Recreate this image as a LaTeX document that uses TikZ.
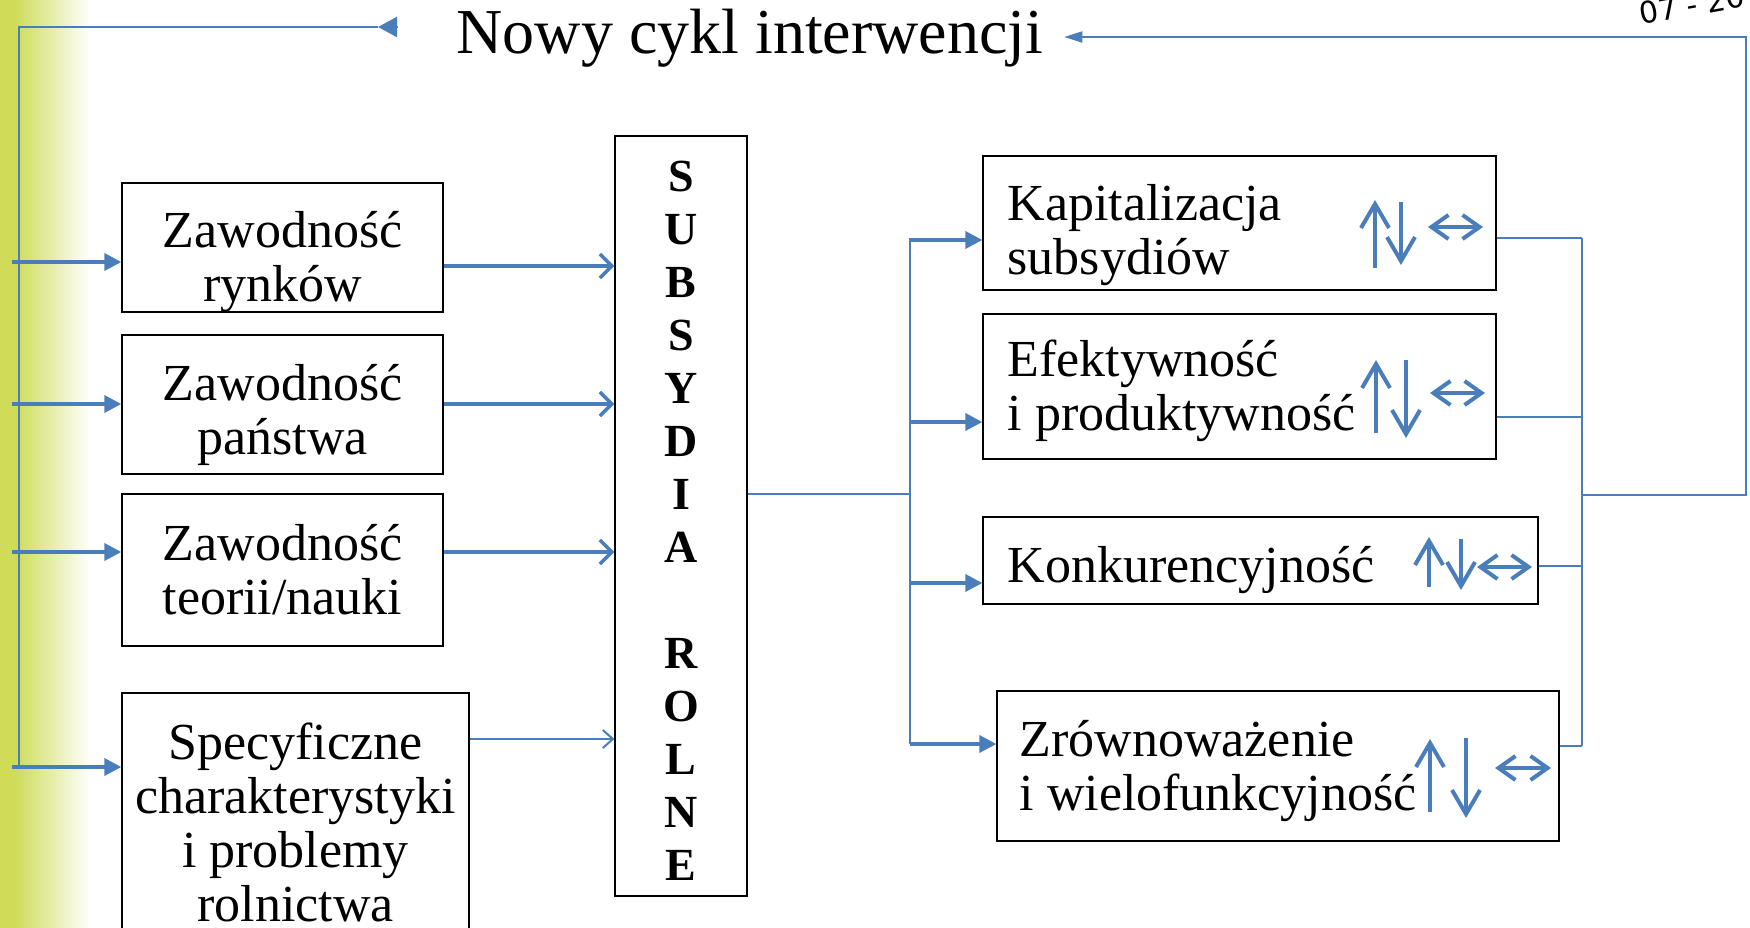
\documentclass[tikz,border=0pt]{standalone}
\usepackage{fontspec}
\setmainfont{Liberation Serif}
\setsansfont{DejaVu Sans}
\usetikzlibrary{positioning,arrows.meta}
\definecolor{lineblue}{RGB}{74,126,187}
\definecolor{lime}{RGB}{206,220,88}
\newcommand{\boxfont}{\fontsize{52}{54}\selectfont}

\begin{document}
\begin{tikzpicture}[x=1pt,y=-1pt,
    box/.style={draw, line width=1.3pt, inner sep=0pt},
    txt/.style={inner sep=0pt, align=center, font=\boxfont},
    rtxt/.style={txt, align=left, anchor=west},
    link/.style={lineblue, line width=2pt},
    feed/.style={lineblue, line width=3.5pt, -{Triangle[length=17pt,width=17pt]}},
    into/.style={lineblue, line width=3.5pt, -{Straight Barb[length=12pt,width=24pt]}},
    trend/.style={lineblue, line width=4pt, -{Straight Barb[length=24pt,width=28pt]}},
    both/.style={lineblue, line width=4pt, {Straight Barb[length=17pt,width=24pt]}-{Straight Barb[length=17pt,width=24pt]}}]
    \useasboundingbox (0,0) rectangle (1750,928);
    \fill[lime] (0,0) rectangle (15,928);
    \shade[left color=lime, right color=white] (15,0) rectangle (90,928);

    \node[font=\fontsize{64}{66}\selectfont, inner sep=0pt, outer xsep=21pt, anchor=base] (cycle) at (750,54) {Nowy cykl interwencji};
    \node[font=\sffamily\fontsize{30}{30}\selectfont, rotate=10] (stamp) at (1692,5) {07 - 20};

    % przyczyny
    \node[box, minimum width=321pt, minimum height=129pt] (mkt) at (282.5,247.5) {};
    \node[box, minimum width=321pt, minimum height=139pt] (state) at (282.5,404.5) {};
    \node[box, minimum width=321pt, minimum height=152pt] (theory) at (282.5,570) {};
    \node[box, minimum width=347pt, minimum height=267pt] (agri) at (295.5,826.5) {};
    \node[txt] (mkt-t) at ([yshift=-15pt]mkt.center) {Zawodność\\rynków};
    \node[txt] (state-t) at ([yshift=-10pt]state.center) {Zawodność\\państwa};
    \node[txt] (theory-t) at (theory.center) {Zawodność\\teorii/nauki};
    \node[txt] (agri-t) at ([yshift=4pt]agri.center) {Specyficzne\\charakterystyki\\i problemy\\rolnictwa};

    \node[box, minimum width=132pt, minimum height=760pt] (subs) at (681,516) {};
    \node[txt, font=\bfseries\fontsize{46}{53}\selectfont] (subs-t) at ([yshift=-5pt]subs.center) {S\\U\\B\\S\\Y\\D\\I\\A\\[53pt]R\\O\\L\\N\\E};

    % skutki
    \node[box, minimum width=513pt, minimum height=134pt] (cap) at (1239.5,223) {};
    \node[box, minimum width=513pt, minimum height=145pt] (eff) at (1239.5,386.5) {};
    \node[box, minimum width=555pt, minimum height=87pt] (comp) at (1260.5,560.5) {};
    \node[box, minimum width=562pt, minimum height=150pt] (sust) at (1278,766) {};
    \node[rtxt] (cap-t) at ([xshift=25pt,yshift=-12pt]cap.west) {Kapitalizacja\\subsydiów};
    \node[rtxt] (eff-t) at ([xshift=25pt,yshift=-4pt]eff.west) {Efektywność\\i produktywność};
    \node[rtxt] (comp-t) at ([xshift=25pt,yshift=-10pt]comp.west) {Konkurencyjność};
    \node[rtxt] (sust-t) at ([xshift=23pt,yshift=-5pt]sust.west) {Zrównoważenie\\i wielofunkcyjność};

    \coordinate (lt) at (19,27);
    \coordinate (lb) at (19,767);
    \coordinate (ltip) at (378,27);
    \coordinate (lbase) at (397,27);
    \coordinate (ct) at (910,238);
    \coordinate (cb) at (910,744);
    \coordinate (rt) at (1582,238);
    \coordinate (rb) at (1582,746);
    \coordinate (et) at (1746,37);
    \coordinate (em) at (1746,495);

    % petla
    \draw[link, -{Triangle[length=18pt,width=11pt]}] (rt |- em) -- (em) -- (et) -- (cycle.east |- et);
    \draw[link, -{Triangle[length=19pt,width=20pt]}] (lbase) -- (ltip);
    \draw[link] (ltip) -- (lt) -- (lb);
    \foreach \n/\y in {mkt/262, state/404, theory/552, agri/767}
      \draw[feed] (12,\y) -- (\n.west |- 0,\y);

    \foreach \n/\y in {mkt/266, state/404, theory/552}
      \draw[into] (\n.east |- 0,\y) -- (subs.west |- 0,\y);
    \draw[into, line width=2pt, -{Straight Barb[length=10pt,width=18pt]}] (agri.east |- 0,739) -- (subs.west |- 0,739);

    \draw[link] (subs.east |- 0,494) -- (ct |- 0,494);
    \draw[link] (ct) -- (cb);
    \foreach \n/\y in {cap/240, eff/422, comp/583, sust/744}
      \draw[feed] (910,\y) -- (\n.west |- 0,\y);

    \draw[link] (rt) -- (rb);
    \foreach \n/\y in {cap/238, eff/417, comp/566, sust/746}
      \draw[link] (\n.east |- 0,\y) -- (rt |- 0,\y);

    % strzalki zmian
    \foreach \ux/\ub/\ut/\dx/\dt/\db/\la/\lb/\ly in {1375/268/200/1401/202/265/1428/1483/227,
        1376/433/360/1406/360/438/1430/1485/393,
        1429/587/537/1461/539/590/1477/1532/567,
        1430/812/739/1466/738/818/1495/1551/768}{
      \draw[trend] (\ux,\ub) -- (\ux,\ut);
      \draw[trend] (\dx,\dt) -- (\dx,\db);
      \draw[both] (\la,\ly) -- (\lb,\ly);
    }
\end{tikzpicture}
\end{document}
